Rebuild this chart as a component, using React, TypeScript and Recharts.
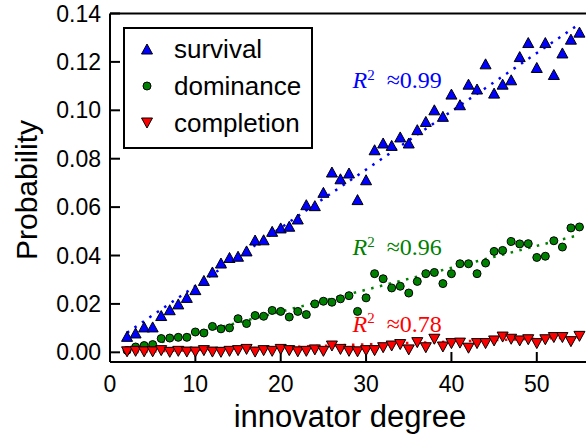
import { ComposedChart, Scatter, Line, XAxis, YAxis } from "recharts";

// innovator degree for every point (same for all three series)
const degrees = [
  2, 3, 4, 5, 6, 7, 8, 9, 10, 11, 12, 13, 14, 15, 16, 17, 18, 19, 20, 21,
  22, 23, 24, 25, 26, 27, 28, 29, 30, 31, 32, 33, 34, 35, 36, 37, 38, 39, 40, 41,
  42, 43, 44, 45, 46, 47, 48, 49, 50, 51, 52, 53, 54, 55,
];

const survival = [
  0.0066, 0.008, 0.0105, 0.0105, 0.0152, 0.0176, 0.02, 0.0227, 0.0259, 0.0297,
  0.0332, 0.0369, 0.0392, 0.0397, 0.0419, 0.0464, 0.0465, 0.05, 0.0514, 0.0521,
  0.0551, 0.061, 0.0606, 0.0661, 0.0745, 0.0717, 0.0741, 0.0631, 0.0713, 0.0837,
  0.0865, 0.0855, 0.089, 0.0865, 0.092, 0.0954, 0.1002, 0.0975, 0.1067, 0.1023,
  0.1108, 0.1088, 0.1192, 0.1071, 0.1108, 0.1126, 0.1222, 0.128, 0.1177, 0.128,
  0.1148, 0.1237, 0.1294, 0.1323,
];

const dominance = [
  0.0008, 0.0022, 0.0028, 0.0032, 0.0057, 0.0059, 0.0062, 0.0062, 0.0084, 0.008,
  0.0107, 0.0097, 0.0101, 0.0139, 0.0119, 0.0152, 0.0149, 0.0173, 0.0169, 0.0146,
  0.0169, 0.0156, 0.02, 0.0211, 0.0207, 0.0221, 0.0234, 0.0169, 0.0225, 0.0325,
  0.0304, 0.0266, 0.0273, 0.0245, 0.0293, 0.0325, 0.033, 0.0284, 0.0325, 0.0366,
  0.0366, 0.0325, 0.0369, 0.0417, 0.0421, 0.0458, 0.0448, 0.0449, 0.0392, 0.0397,
  0.0461, 0.0435, 0.0514, 0.0518,
];

const completion = [
  0.0002, 0.0004, 0.0002, 0.0002, 0.0007, 0.0, 0.0004, 0.0001, 0.0001, 0.0007,
  0.0001, 0.0, 0.0004, 0.0007, 0.0012, 0.0001, 0.0007, 0.0004, 0.0012, 0.0007,
  0.0002, 0.0004, 0.001, 0.0004, 0.0026, 0.0012, 0.0004, 0.0002, 0.0007, 0.0007,
  0.0019, 0.0026, 0.0032, 0.001, 0.004, 0.0019, 0.0054, 0.0022, 0.0036, 0.0038,
  0.0017, 0.0036, 0.0036, 0.0047, 0.0063, 0.0054, 0.0047, 0.0052, 0.0036, 0.0052,
  0.0061, 0.0061, 0.0044, 0.0066,
];

// linear fit end points (first and last degree)
const fitDegrees = [2, 55];
const survivalFit = [0.0081, 0.1357];
const dominanceFit = [0.0005, 0.0485];
const completionFit = [0.0, 0.0062];

const xTicks = [0, 10, 20, 30, 40, 50];
const yTicks = [0, 0.02, 0.04, 0.06, 0.08, 0.1, 0.12, 0.14];

const rSquared = ["0.99", "0.96", "0.78"];

const toPoints = (xs: number[], ys: number[]) => xs.map((x, i) => ({ x, y: ys[i] }));

const FONT = "'Liberation Sans', Arial, Helvetica, sans-serif";
const SERIF = "'Liberation Serif', 'Times New Roman', serif";

const TriUp = ({ cx, cy, fill }: any) => (
  <polygon
    points={`${cx},${cy - 5} ${cx - 5.5},${cy + 5} ${cx + 5.5},${cy + 5}`}
    fill={fill}
    stroke="#000"
    strokeWidth={1}
  />
);

const TriDown = ({ cx, cy, fill }: any) => (
  <polygon
    points={`${cx},${cy + 5} ${cx - 5.5},${cy - 5} ${cx + 5.5},${cy - 5}`}
    fill={fill}
    stroke="#000"
    strokeWidth={1}
  />
);

const Dot = ({ cx, cy, fill }: any) => (
  <circle cx={cx} cy={cy} r={4} fill={fill} stroke="#000" strokeWidth={1} />
);

const series = [
  { name: "survival", color: "#0000ff", values: survival, fit: survivalFit, shape: TriUp, r2: rSquared[0], labelY: 88 },
  { name: "dominance", color: "#008000", values: dominance, fit: dominanceFit, shape: Dot, r2: rSquared[1], labelY: 255 },
  { name: "completion", color: "#ff0000", values: completion, fit: completionFit, shape: TriDown, r2: rSquared[2], labelY: 331.5 },
];

const axisTick = { fill: "#000", fontSize: 23, fontFamily: FONT };
const axisLine = { stroke: "#000", strokeWidth: 2 };
const tickLine = { stroke: "#000", strokeWidth: 2 };

const App = () => {
  return (
    <div style={{ position: "absolute", left: 0, top: 0, width: 586, height: 437, overflow: "hidden", background: "#fff" }}>
      <ComposedChart width={590} height={437} margin={{ top: 0.5, right: 0, bottom: 0, left: 0 }}>
        <XAxis
          dataKey="x"
          type="number"
          domain={[0, 56]}
          ticks={xTicks}
          allowDataOverflow
          height={75}
          tick={axisTick}
          axisLine={axisLine}
          tickLine={tickLine}
          tickSize={-10}
          tickMargin={24}
        />
        <XAxis
          xAxisId="top"
          orientation="top"
          type="number"
          domain={[0, 56]}
          ticks={xTicks}
          allowDataOverflow
          height={13}
          tick={false}
          axisLine={axisLine}
          tickLine={tickLine}
          tickSize={-10}
        />
        <YAxis
          type="number"
          domain={[-0.004, 0.14]}
          ticks={yTicks}
          allowDataOverflow
          width={110}
          tick={axisTick}
          tickFormatter={(v: number) => v.toFixed(2)}
          axisLine={axisLine}
          tickLine={tickLine}
          tickSize={-10}
          tickMargin={19}
        />
        <YAxis
          yAxisId="right"
          orientation="right"
          type="number"
          domain={[-0.004, 0.14]}
          ticks={yTicks}
          allowDataOverflow
          width={2}
          tick={false}
          axisLine={axisLine}
          tickLine={tickLine}
          tickSize={-10}
        />
        {series.map((s) => [
          <Scatter
            key={s.name}
            name={s.name}
            data={toPoints(degrees, s.values)}
            dataKey="y"
            fill={s.color}
            shape={s.shape}
            isAnimationActive={false}
          />,
          <Line
            key={s.name + "-fit"}
            data={toPoints(fitDegrees, s.fit)}
            dataKey="y"
            stroke={s.color}
            strokeWidth={2.5}
            strokeDasharray="2.5 6.5"
            dot={false}
            activeDot={false}
            legendType="none"
            isAnimationActive={false}
          />,
        ])}
      </ComposedChart>

      <svg width={586} height={437} style={{ position: "absolute", left: 0, top: 0, pointerEvents: "none" }}>
        {series.map((s) => (
          <text key={s.name} x={352.5} y={s.labelY} fill={s.color} fontFamily={SERIF} fontSize={24}>
            <tspan fontStyle="italic">R</tspan>
            <tspan fontSize={15} dy={-8.5}>2</tspan>
            <tspan dy={8.5} dx={12}>{"≈" + s.r2}</tspan>
          </text>
        ))}
        <text x={350} y={427} textAnchor="middle" fontFamily={FONT} fontSize={31} fill="#000">
          innovator degree
        </text>
        <text
          x={37}
          y={190}
          textAnchor="middle"
          fontFamily={FONT}
          fontSize={30}
          fill="#000"
          transform="rotate(-90 37 190)"
        >
          Probability
        </text>
      </svg>

      <div
        style={{
          position: "absolute",
          left: 123,
          top: 27,
          width: 190,
          height: 122,
          boxSizing: "border-box",
          border: "2px solid #000",
          background: "#fff",
          fontFamily: FONT,
          fontSize: 26,
        }}
      >
        {series.map((s, i) => (
          <div key={s.name} style={{ position: "absolute", left: 0, top: 2 + i * 37, height: 36, width: 186 }}>
            <svg width={20} height={20} style={{ position: "absolute", left: 12, top: 8 }}>
              <s.shape cx={10} cy={10} fill={s.color} />
            </svg>
            <span style={{ position: "absolute", left: 49, top: 0, lineHeight: "36px", whiteSpace: "nowrap" }}>{s.name}</span>
          </div>
        ))}
      </div>
    </div>
  );
};

export default App;
